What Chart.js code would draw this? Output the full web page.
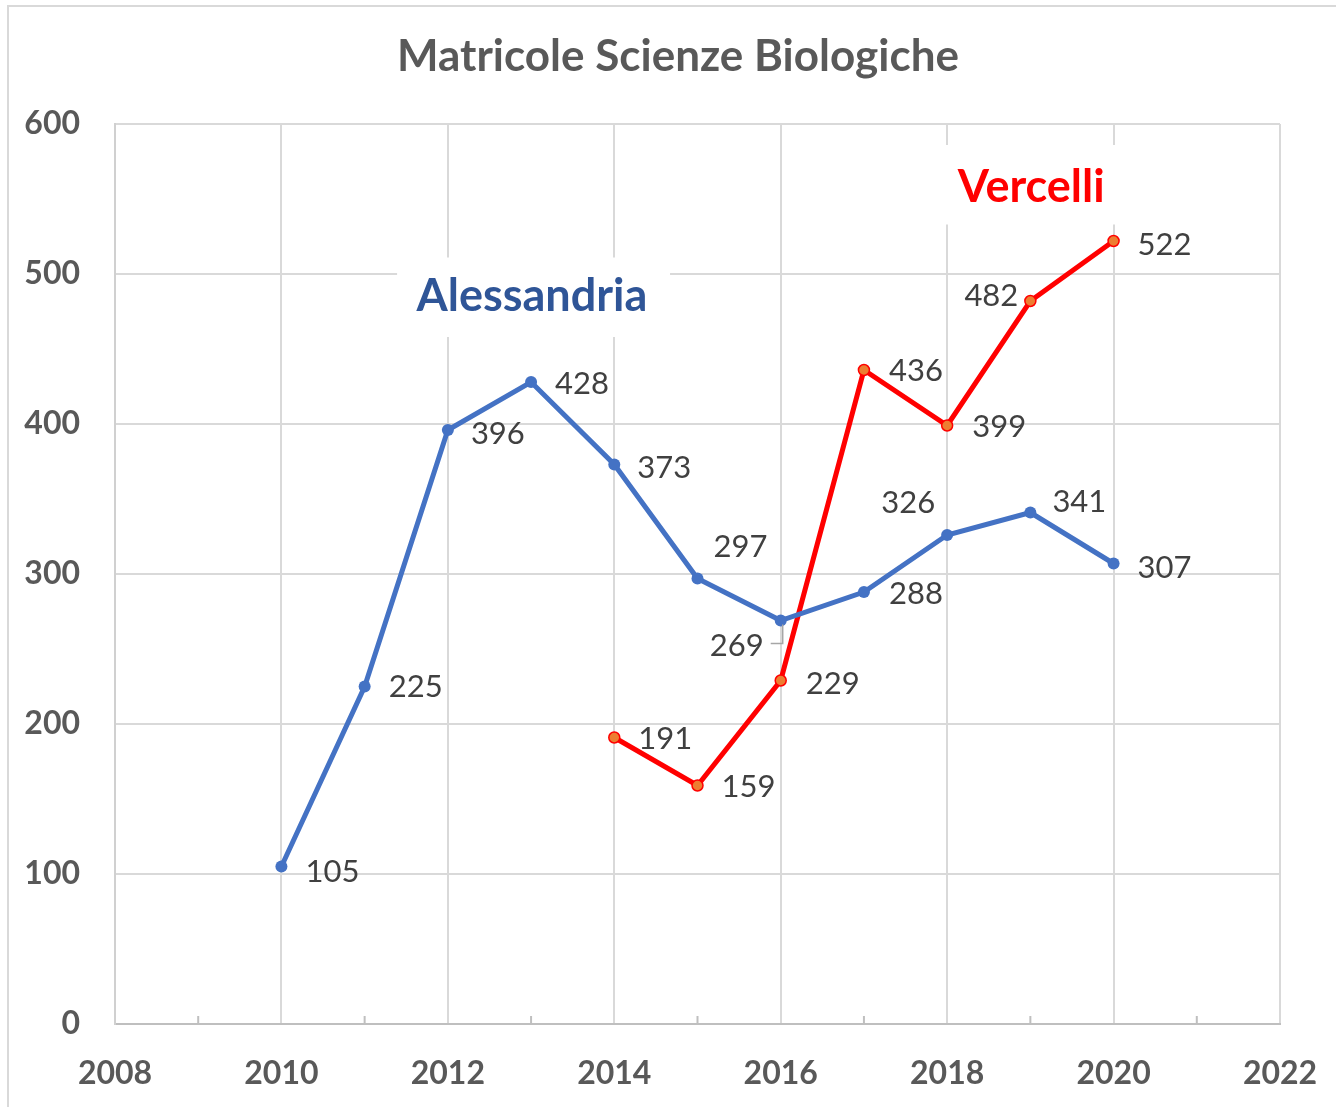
<!DOCTYPE html>
<html>
<head>
<meta charset="utf-8">
<script src="https://cdn.jsdelivr.net/npm/chart.js@4.4.1/dist/chart.umd.min.js"></script>
<style>
  body { margin: 0; background: #fff; }
  #wrap { width: 1336px; height: 1107px; }
</style>
</head>
<body>
<div id="wrap"><canvas id="chart" width="1336" height="1107"></canvas></div>
<script>
// data
var anniAle = [2010, 2011, 2012, 2013, 2014, 2015, 2016, 2017, 2018, 2019, 2020];
var alessandria = [105, 225, 396, 428, 373, 297, 269, 288, 326, 341, 307];
var anniVer = [2014, 2015, 2016, 2017, 2018, 2019, 2020];
var vercelli = [191, 159, 229, 436, 399, 482, 522];
var yTicks = [0, 100, 200, 300, 400, 500, 600];
var xTicks = [2008, 2010, 2012, 2014, 2016, 2018, 2020, 2022];
var titolo = 'Matricole Scienze Biologiche';

// label offsets (pixels from the point)
var offAle = [[51, 5], [51, 0], [50, 4], [51, 2], [50, 3], [43, -32], [-44, 25], [52, 2], [-39, -32], [49, -11], [51, 4]];
var offVer = [[51, 1], [51, 1], [52, 3], [52, 1], [52, 1], [-39, -5], [51, 4]];

function toPoints(xs, ys) {
    return xs.map(function (x, i) { return { x: x, y: ys[i] }; });
}

var FONT = 'Lato, "Liberation Sans", sans-serif';

var extras = {
    id: 'extras',
    beforeDraw: function (chart) {
        var ctx = chart.ctx;
        ctx.save();
        ctx.strokeStyle = '#d9d9d9';
        ctx.lineWidth = 2;
        ctx.strokeRect(8, 6, 1400, 1200);
        // title
        ctx.font = 'bold 44px ' + FONT;
        ctx.fillStyle = '#595959';
        ctx.textAlign = 'center';
        ctx.textBaseline = 'middle';
        ctx.fillText(titolo, 678, 57);
        ctx.restore();
    },
    beforeDatasetsDraw: function (chart) {
        var ctx = chart.ctx, xs = chart.scales.x, ys = chart.scales.y;
        ctx.save();
        // minor ticks on odd years
        ctx.strokeStyle = '#bfbfbf';
        ctx.lineWidth = 2;
        for (var yr = 2009; yr < 2022; yr += 2) {
            var px = xs.getPixelForValue(yr);
            ctx.beginPath();
            ctx.moveTo(px, ys.bottom);
            ctx.lineTo(px, ys.bottom - 8);
            ctx.stroke();
        }
        // white boxes behind series names
        ctx.fillStyle = '#ffffff';
        function box(x0, x1, y0, y1) {
            var a = xs.getPixelForValue(x0), b = xs.getPixelForValue(x1);
            var c = ys.getPixelForValue(y0), d = ys.getPixelForValue(y1);
            ctx.fillRect(a, c, b - a, d - c);
        }
        box(2011.39, 2014.67, 511, 458);
        box(2017.9, 2020.15, 586, 533);
        ctx.textAlign = 'center';
        ctx.textBaseline = 'middle';
        ctx.font = 'bold 45px ' + FONT;
        ctx.fillStyle = '#2f5597';
        ctx.fillText('Alessandria', xs.getPixelForValue(2013.01), ys.getPixelForValue(485));
        ctx.fillStyle = '#ff0000';
        ctx.fillText('Vercelli', xs.getPixelForValue(2019.01), ys.getPixelForValue(558));
        ctx.restore();
    },
    afterDatasetsDraw: function (chart) {
        var ctx = chart.ctx;
        ctx.save();
        ctx.font = '31px ' + FONT;
        ctx.fillStyle = '#404040';
        ctx.textAlign = 'center';
        ctx.textBaseline = 'middle';
        [offAle, offVer].forEach(function (offs, di) {
            var meta = chart.getDatasetMeta(di);
            var vals = chart.data.datasets[di].data;
            meta.data.forEach(function (pt, i) {
                var lx = pt.x + offs[i][0], ly = pt.y + offs[i][1];
                ctx.fillText(String(vals[i].y), lx, ly);
                if (di === 0 && vals[i].y === 269) {
                    // leader line
                    ctx.strokeStyle = '#a6a6a6';
                    ctx.lineWidth = 1.5;
                    ctx.beginPath();
                    ctx.moveTo(pt.x + 2, pt.y + 4);
                    ctx.lineTo(pt.x + 2, pt.y + 23);
                    ctx.lineTo(pt.x - 10, pt.y + 23);
                    ctx.stroke();
                }
            });
        });
        ctx.restore();
    }
};

var chart = new Chart('chart', {
    type: 'line',
    plugins: [extras],
    data: {
        datasets: [
            {
                label: 'Alessandria',
                data: toPoints(anniAle, alessandria),
                borderColor: '#4472c4',
                backgroundColor: '#4472c4',
                borderWidth: 5,
                pointRadius: 6,
                pointBorderWidth: 0,
                pointBackgroundColor: '#4472c4',
                tension: 0
            },
            {
                label: 'Vercelli',
                data: toPoints(anniVer, vercelli),
                borderColor: '#ff0000',
                backgroundColor: '#ed7d31',
                borderWidth: 5,
                pointRadius: 5.5,
                pointBorderWidth: 1.5,
                pointBorderColor: '#ff0000',
                pointBackgroundColor: '#ed7d31',
                tension: 0
            }
        ]
    },
    options: {
        responsive: false,
        animation: false,
        layout: { padding: { left: 0, right: 56, top: 124, bottom: 0 } },
        plugins: {
            legend: { display: false },
            tooltip: { enabled: false },
            title: { display: false }
        },
        scales: {
            x: {
                type: 'linear',
                min: 2008,
                max: 2022,
                afterBuildTicks: function (s) { s.ticks = xTicks.map(function (v) { return { value: v }; }); },
                afterFit: function (s) { s.height = 83; s.paddingLeft = 0; s.paddingRight = 0; },
                ticks: {
                    color: '#595959',
                    font: { family: FONT, size: 32, weight: 'bold' },
                    padding: 30,
                    maxRotation: 0,
                    callback: function (v) { return String(v); }
                },
                grid: { color: '#d9d9d9', lineWidth: 2, drawTicks: false },
                border: { color: '#bfbfbf', width: 2 }
            },
            y: {
                min: 0,
                max: 600,
                afterBuildTicks: function (s) { s.ticks = yTicks.map(function (v) { return { value: v }; }); },
                afterFit: function (s) { s.width = 115; s.paddingTop = 0; s.paddingBottom = 0; },
                ticks: {
                    color: '#595959',
                    font: { family: FONT, size: 32, weight: 'bold' },
                    padding: 35
                },
                grid: { color: '#d9d9d9', lineWidth: 2, drawTicks: false },
                border: { color: '#d0d0d0', width: 2 }
            }
        }
    }
});
</script>
</body>
</html>
